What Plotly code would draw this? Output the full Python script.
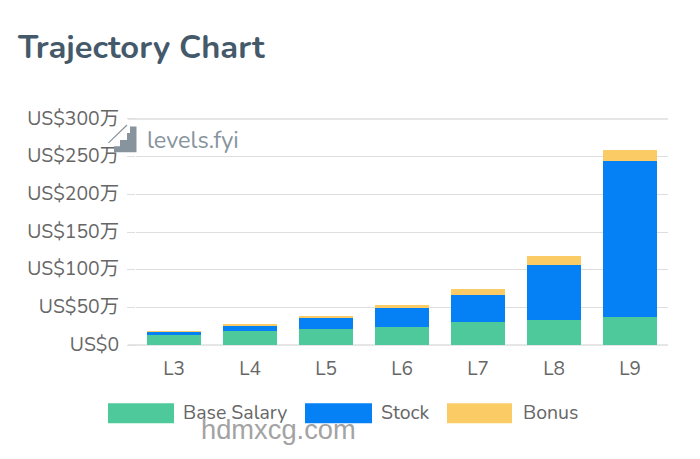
import plotly.graph_objects as go

levels = ["L3", "L4", "L5", "L6", "L7", "L8", "L9"]
base_salary = [13.5, 18, 21.5, 24.5, 30, 33.5, 37]
stock = [4.5, 8, 14, 24, 37, 72.5, 207]
bonus = [0.4, 2, 3.5, 5, 8, 11.5, 15]
tick_values = [0, 50, 100, 150, 200, 250, 300]
tick_labels = ["US$0", "US$50万", "US$100万", "US$150万", "US$200万", "US$250万", "US$300万"]
series = [("Base Salary", base_salary, "#4ec99b"),
          ("Stock", stock, "#0580f5"),
          ("Bonus", bonus, "#fbcb66")]

W, H = 700, 459
L, R, T, B = 136, 32, 117.5, 112.5
FONT = "Nunito, 'Open Sans', 'Noto Sans CJK SC', sans-serif"
GREY = "#666666"


def px(x):
    return (x - L) / (W - L - R)


def py(y):
    return 1 - (y - T) / (H - T - B)


fig = go.Figure()
for name, vals, col in series:
    fig.add_bar(x=levels, y=vals, name=name, marker=dict(color=col, line_width=0),
                width=0.72, showlegend=False)

shapes = []
annotations = []

# first and last gridlines, kept visible at the ends of the axis
for v in (tick_values[0], tick_values[-1]):
    shapes.append(dict(type="line", xref="paper", yref="y", x0=px(128), x1=1, y0=v, y1=v,
                       layer="below", line=dict(color="#dedede", width=1.3)))

# legend (swatch size cannot be set on a native bar legend)
legend_layout = [(108, 174, 181), (305, 372, 379), (447, 512, 520.5)]
for (x0, x1, tx), (name, _, col) in zip(legend_layout, series):
    shapes.append(dict(type="rect", xref="paper", yref="paper", x0=px(x0), x1=px(x1),
                       y0=py(424), y1=py(404), fillcolor=col, line_width=0))
    annotations.append(dict(text=name, xref="paper", yref="paper", x=px(tx), y=py(413.5),
                            xanchor="left", yanchor="middle", showarrow=False,
                            font=dict(family=FONT, size=19.5, color=GREY)))

# levels.fyi logo
stairs = [(114, 152), (114, 146), (120, 146), (120, 139.5), (127, 139.5), (127, 132.5),
          (130, 132.5), (130, 126), (136.5, 126), (136.5, 152)]
path = "M " + " L ".join(f"{px(a):.5f},{py(b):.5f}" for a, b in stairs) + " Z"
shapes.append(dict(type="path", xref="paper", yref="paper", path=path,
                   fillcolor="#87949d", line_width=0))
shapes.append(dict(type="line", xref="paper", yref="paper", x0=px(108.5), x1=px(127),
                   y0=py(142.5), y1=py(124.5), line=dict(color="#87949d", width=1.2)))
annotations.append(dict(text="levels.fyi", xref="paper", yref="paper", x=px(145), y=py(140),
                        xanchor="left", yanchor="middle", showarrow=False,
                        font=dict(family=FONT, size=23.5, color="#87949d")))

# watermark
annotations.append(dict(text="hdmxcg.com", xref="paper", yref="paper", x=px(278.5), y=py(430),
                        xanchor="center", yanchor="middle", showarrow=False,
                        font=dict(family="Liberation Sans", size=27.3, color="#a3a3a3")))

fig.update_layout(
    width=W, height=H, barmode="stack", bargap=0.28,
    margin=dict(l=L, r=R, t=T, b=B),
    paper_bgcolor="white", plot_bgcolor="white",
    font=dict(family=FONT, color=GREY, size=19.4),
    title=dict(text="<b>Trajectory Chart</b>", x=18 / W, xanchor="left", xref="container",
               y=1 - 47 / H, yanchor="middle",
               font=dict(family=FONT, size=32.7, color="#44596a")),
    shapes=shapes, annotations=annotations,
)
fig.update_xaxes(showgrid=False, showline=False, ticks="", ticklabelstandoff=9,
                 tickfont=dict(size=19, color=GREY))
fig.update_yaxes(range=[-1.32, 301.32], tickvals=tick_values, ticktext=tick_labels,
                 showgrid=True, gridcolor="#dedede", gridwidth=1.3, zeroline=False,
                 ticks="outside", ticklen=8, tickcolor="#dedede", tickwidth=1.3,
                 ticklabelstandoff=4, ticklabelshift=-1,
                 showline=False, tickfont=dict(size=19.4, color=GREY))

fig.write_html("out.html", config={"displayModeBar": False},
               post_script="document.body.style.margin='0';")
